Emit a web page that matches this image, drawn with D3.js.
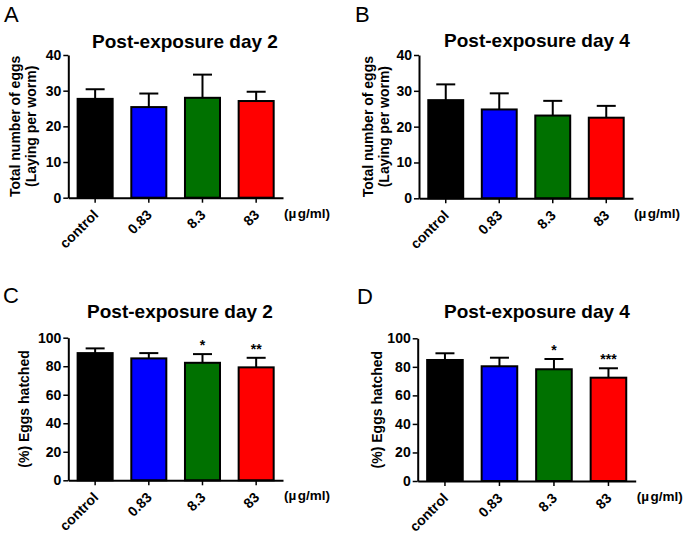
<!DOCTYPE html>
<html>
<head>
<meta charset="utf-8">
<script src="https://cdn.jsdelivr.net/npm/d3@7"></script>
<style>
  html, body { margin: 0; padding: 0; background: #fff; }
  svg { display: block; }
  text { font-family: Arial, "Liberation Sans", Helvetica, sans-serif; }
</style>
</head>
<body>
<svg id="chart" width="685" height="534"></svg>
<script>
// ---- Data ----
const categories = ["control", "0.83", "8.3", "83"];
const barColors = ["#000000", "#0000ff", "#007100", "#ff0000"];

const eggsDay2Mean = [27.7, 25.4, 28.0, 27.1];
const eggsDay2Err  = [2.7, 3.8, 6.5, 2.6];
const eggsDay4Mean = [27.4, 24.8, 23.1, 22.5];
const eggsDay4Err  = [4.4, 4.5, 4.1, 3.3];

const hatchDay2Mean = [89.2, 85.5, 82.4, 79.2];
const hatchDay2Err  = [3.3, 3.7, 6.1, 6.7];
const hatchDay4Mean = [84.8, 80.4, 78.3, 72.4];
const hatchDay4Err  = [4.7, 6.0, 7.2, 6.6];

const noSig = ["", "", "", ""];
const hatchDay2Sig = ["", "", "*", "**"];
const hatchDay4Sig = ["", "", "*", "***"];

const eggsTicks = [0, 10, 20, 30, 40];
const hatchTicks = [0, 20, 40, 60, 80, 100];
const unitParts = ["(\u00b5", "g/ml)"];

// ---- Panels ----
const panels = [
  { letter: "A", title: "Post-exposure day 2", ylab: ["Total number of eggs", "(Laying per worm)"],
    mean: eggsDay2Mean, err: eggsDay2Err, sig: noSig, ticks: eggsTicks, ymax: 40,
    box: [68.3, 283, 55, 197.7], letterPos: [4, 22], titleX: 185, titleY: 47.5, ylabX: [-53, -37] },
  { letter: "B", title: "Post-exposure day 4", ylab: ["Total number of eggs", "(Laying per worm)"],
    mean: eggsDay4Mean, err: eggsDay4Err, sig: noSig, ticks: eggsTicks, ymax: 40,
    box: [419, 633, 55, 198.3], letterPos: [355, 22], titleX: 537, titleY: 47, ylabX: [-51, -35] },
  { letter: "C", title: "Post-exposure day 2", ylab: ["(%) Eggs hatched"],
    mean: hatchDay2Mean, err: hatchDay2Err, sig: hatchDay2Sig, ticks: hatchTicks, ymax: 100,
    box: [68.3, 283, 337.7, 480.3], letterPos: [3, 303], titleX: 180, titleY: 318, ylabX: [-44] },
  { letter: "D", title: "Post-exposure day 4", ylab: ["(%) Eggs hatched"],
    mean: hatchDay4Mean, err: hatchDay4Err, sig: hatchDay4Sig, ticks: hatchTicks, ymax: 100,
    box: [417.7, 635.7, 338.3, 481], letterPos: [357, 304], titleX: 537, titleY: 318, ylabX: [-41] }
];

const svg = d3.select("#chart");

panels.forEach(p => {
  const [x0, x1, yTop, yBot] = p.box;
  const g = svg.append("g");

  const x = d3.scaleBand().domain(categories).range([x0, x1]).paddingInner(0.31).paddingOuter(0.155);
  const y = d3.scaleLinear().domain([0, p.ymax]).range([yBot, yTop]);

  // panel letter
  g.append("text").attr("x", p.letterPos[0]).attr("y", p.letterPos[1])
    .attr("font-size", 22).attr("fill", "#000").text(p.letter);

  // title
  g.append("text").attr("x", p.titleX).attr("y", p.titleY)
    .attr("text-anchor", "middle").attr("font-size", 19).attr("font-weight", "bold")
    .text(p.title);

  // y label
  const cy = (yTop + yBot) / 2;
  p.ylab.forEach((line, i) => {
    const cx = x0 + p.ylabX[i];
    g.append("text")
      .attr("transform", `translate(${cx + 5},${cy}) rotate(-90)`)
      .attr("text-anchor", "middle").attr("font-size", 14).attr("font-weight", "bold")
      .text(line);
  });

  const data = categories.map((c, i) => ({ c, m: p.mean[i], e: p.err[i], s: p.sig[i], col: barColors[i] }));

  // error bars (upper only)
  const cap = 19;
  data.forEach(d => {
    const cx = x(d.c) + x.bandwidth() / 2;
    g.append("line").attr("x1", cx).attr("x2", cx).attr("y1", y(d.m)).attr("y2", y(d.m + d.e))
      .attr("stroke", "#000").attr("stroke-width", 2);
    g.append("line").attr("x1", cx - cap / 2).attr("x2", cx + cap / 2)
      .attr("y1", y(d.m + d.e)).attr("y2", y(d.m + d.e))
      .attr("stroke", "#000").attr("stroke-width", 2);
    if (d.s) {
      g.append("text").attr("x", cx).attr("y", y(d.m + d.e) - 4)
        .attr("text-anchor", "middle").attr("font-size", 14).attr("font-weight", "bold")
        .text(d.s);
    }
  });

  // bars
  g.selectAll("rect.bar").data(data).enter().append("rect")
    .attr("class", "bar")
    .attr("x", d => x(d.c) + 1)
    .attr("width", x.bandwidth() - 2)
    .attr("y", d => y(d.m))
    .attr("height", d => yBot - y(d.m))
    .attr("fill", d => d.col)
    .attr("stroke", "#000").attr("stroke-width", 2);

  // y axis
  const yAxis = d3.axisLeft(y).tickValues(p.ticks).tickSize(5).tickPadding(2).tickSizeOuter(0);
  const ya = g.append("g").attr("transform", `translate(${x0},0)`).call(yAxis);
  ya.select(".domain").attr("stroke-width", 2);
  ya.selectAll(".tick line").attr("stroke-width", 1.5);
  ya.selectAll(".tick text").attr("font-size", 14).attr("font-weight", "bold")
    .attr("font-family", "Arial, 'Liberation Sans', sans-serif").attr("fill", "#000");

  // x axis
  const xAxis = d3.axisBottom(x).tickSize(5).tickSizeOuter(0).tickFormat(() => "");
  const xa = g.append("g").attr("transform", `translate(0,${yBot})`).call(xAxis);
  xa.select(".domain").attr("stroke-width", 2);
  xa.selectAll(".tick line").attr("stroke-width", 1.5);

  // rotated category labels
  categories.forEach(c => {
    const cx = x(c) + x.bandwidth() / 2;
    g.append("text")
      .attr("transform", `translate(${cx + 4},${yBot + 18}) rotate(-45)`)
      .attr("text-anchor", "end").attr("font-size", 14).attr("font-weight", "bold")
      .text(c);
  });

  // unit label
  const u = g.append("text").attr("x", x1 + 1).attr("y", yBot + 20)
    .attr("font-size", 13.5).attr("font-weight", "bold");
  u.append("tspan").text(unitParts[0]);
  u.append("tspan").attr("dx", 1.5).text(unitParts[1]);
});
</script>
</body>
</html>
